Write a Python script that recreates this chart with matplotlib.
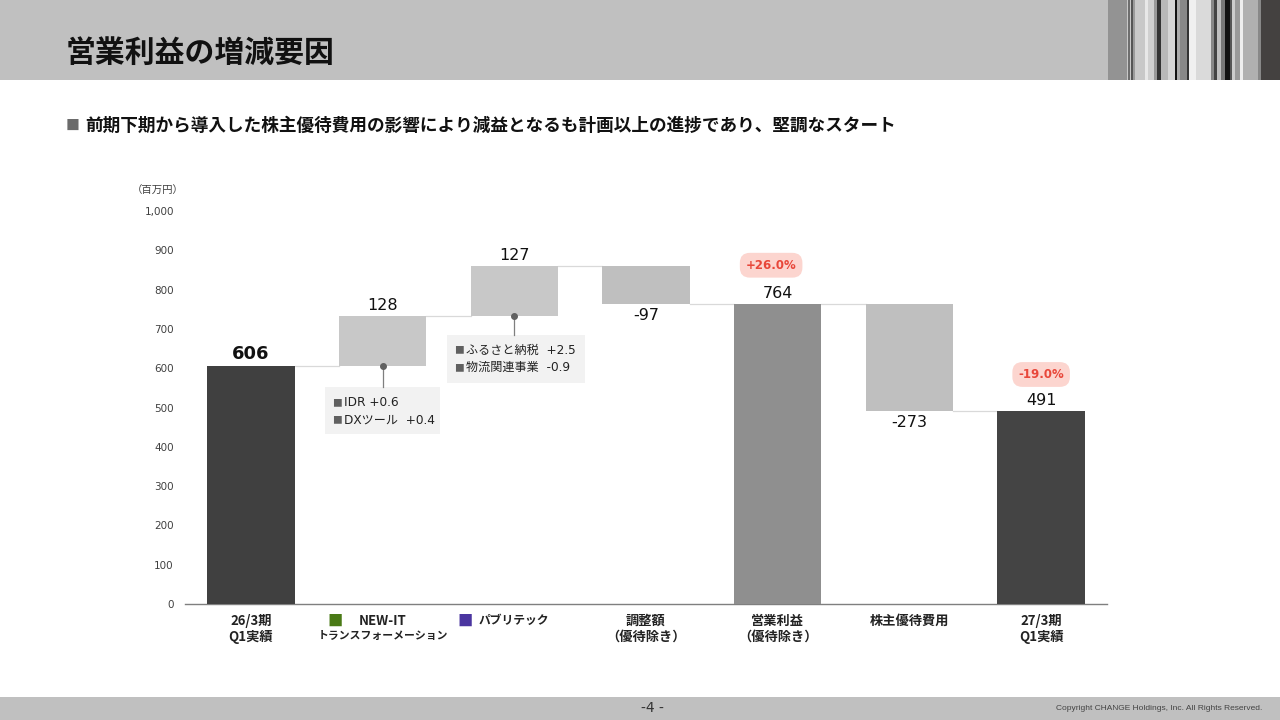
import numpy as np
import matplotlib.pyplot as plt
from matplotlib.patches import Rectangle
from matplotlib.transforms import blended_transform_factory

plt.rcParams['font.family'] = ['Noto Sans CJK JP', 'DejaVu Sans']
LATIN = ['DejaVu Sans', 'Noto Sans CJK JP']

# ---- data ----
categories = ["26/3期\nQ1実績", "NEW-IT", "パブリテック",
              "調整額\n（優待除き）", "営業利益\n（優待除き）", "株主優待費用", "27/3期\nQ1実績"]
sub_label = "トランスフォーメーション"
start_value = 606
deltas = [128, 127, -97]
subtotal = 764
yutai = -273
end_value = 491
bar_labels = ["606", "128", "127", "-97", "764", "-273", "491"]
pct_labels = ["+26.0%", "-19.0%"]
note1 = ["IDR +0.6", "DXツール  +0.4"]
note2 = ["ふるさと納税  +2.5", "物流関連事業  -0.9"]
yticks = [0, 100, 200, 300, 400, 500, 600, 700, 800, 900, 1000]

# barcode decoration at the top right (width px, colour)
stripe_w = [19, 1, 2, 1, 2, 2, 10, 3, 6, 3, 4, 7, 7, 2, 3, 7, 2, 7, 15, 3, 3, 4, 4, 5, 2, 3, 5, 3, 2, 13, 3, 20]
stripe_c = ['#939393', '#c8c8c8', '#6e6e6e', '#c8c8c8', '#555555', '#9a9a9a', '#c8c8c8', '#e8e8e8',
            '#d0d0d0', '#999999', '#333333', '#b8b8b8', '#d5d5d5', '#111111', '#aaaaaa', '#888888',
            '#333333', '#f0f0f0', '#dadada', '#888888', '#444444', '#c0c0c0', '#777777', '#111111',
            '#555555', '#cccccc', '#999999', '#eeeeee', '#b0b0b0', '#b0b0b0', '#888888', '#444140']

W, H = 1280, 720
fig = plt.figure(figsize=(12.8, 7.2), dpi=100)
fig.patch.set_facecolor('white')

# header band + barcode
fig.patches.append(Rectangle((0, 1 - 80 / H), 1, 80 / H, transform=fig.transFigure,
                             facecolor='#c0c0c0', edgecolor='none', zorder=0))
x0 = 1108
for w, c in zip(stripe_w, stripe_c):
    fig.patches.append(Rectangle((x0 / W, 1 - 80 / H), w / W, 80 / H, transform=fig.transFigure,
                                 facecolor=c, edgecolor='none', zorder=1))
    x0 += w
fig.text(66 / W, 1 - 53 / H, "営業利益の増減要因", fontsize=21.5, fontweight='bold',
         color='#111111', va='center', ha='left')

# subtitle
fig.text(66 / W, 1 - 126 / H, "■", fontsize=10, color='#6b6b6b', va='center', ha='left')
fig.text(85 / W, 1 - 126 / H, "前期下期から導入した株主優待費用の影響により減益となるも計画以上の進捗であり、堅調なスタート",
         fontsize=12.7, fontweight='bold', color='#111111', va='center', ha='left')

# footer band
fig.patches.append(Rectangle((0, 0), 1, 23 / H, transform=fig.transFigure,
                             facecolor='#c0c0c0', edgecolor='none', zorder=0))
fig.text(652 / W, 12 / H, "-4 -", fontsize=10, color='#333333', ha='center', va='center',
         family='DejaVu Sans')
fig.text(1262 / W, 12 / H, "Copyright CHANGE Holdings, Inc. All Rights Reserved.", fontsize=6,
         color='#444444', ha='right', va='center', family='Liberation Sans')

# ---- waterfall ----
ax = fig.add_axes([185 / W, 116 / H, 922 / W, 393 / H])
x = np.arange(len(categories))
cum1 = start_value + deltas[0]
cum2 = cum1 + deltas[1]
cum3 = cum2 + deltas[2]
bottoms = [0, start_value, cum1, cum3, 0, subtotal + yutai, 0]
heights = [start_value, deltas[0], deltas[1], -deltas[2], subtotal, -yutai, end_value]
colors = ['#404040', '#c8c8c8', '#c8c8c8', '#bfbfbf', '#8f8f8f', '#bfbfbf', '#444444']
bw = 0.663
ax.bar(x, heights, bottom=bottoms, width=bw, color=colors, zorder=3)

# connectors
levels = [start_value, cum1, cum2, cum3, subtotal, subtotal + yutai]
for i, lv in enumerate(levels):
    ax.plot([x[i] + bw / 2, x[i + 1] - bw / 2], [lv, lv], color='#d9d9d9', lw=0.9, zorder=2)

# value labels
tops = [start_value, cum1, cum2, cum3, subtotal, subtotal + yutai, end_value]
for i, lab in enumerate(bar_labels):
    if lab.startswith('-'):
        ax.annotate(lab, (x[i], tops[i]), xytext=(0, -3), textcoords='offset points',
                    ha='center', va='top', fontsize=11.5, family='DejaVu Sans', color='#111111')
    else:
        ax.annotate(lab, (x[i], tops[i]), xytext=(0, 2), textcoords='offset points',
                    ha='center', va='bottom', fontsize=13 if i == 0 else 11.5,
                    fontweight='bold' if i == 0 else 'normal', family='DejaVu Sans', color='#111111')

# percentage badges
for xi, yi, lab in [(x[4] - 0.05, 862, pct_labels[0]), (x[6], 584, pct_labels[1])]:
    ax.text(xi, yi, lab, ha='center', va='center', fontsize=8.5, fontweight='bold',
            color='#e8473a', family='DejaVu Sans', zorder=5,
            bbox=dict(boxstyle='round,pad=0.5,rounding_size=0.85', fc='#fcd5cf', ec='none'))

# annotation callouts
def callout(xc, ybar, box, lines):
    bx0, bx1, by0, by1 = box
    ax.add_patch(Rectangle((bx0, by0), bx1 - bx0, by1 - by0, facecolor='#f2f2f2',
                           edgecolor='none', zorder=4))
    ax.plot([xc, xc], [ybar, by1], color='#7f7f7f', lw=0.9, zorder=4)
    ax.plot(xc, ybar, 'o', color='#606060', ms=4, zorder=5)
    for k, ln in enumerate(lines):
        yy = by1 - 40 - 44 * k
        ax.text(bx0 + 0.06, yy, "■", color='#606060', fontsize=7, va='center', ha='left', zorder=5)
        ax.text(bx0 + 0.145, yy, ln, color='#222222', fontsize=8.7, va='center', ha='left',
                family=LATIN, zorder=5)

callout(x[1], start_value, (0.56, 1.433, 432, 552), note1)
callout(x[2], cum1, (1.486, 2.54, 562, 685), note2)

ax.set_xlim(-0.5, 6.5)
ax.set_ylim(0, 1000)
ax.set_yticks(yticks)
ax.set_yticklabels([f"{v:,}" for v in yticks], family='DejaVu Sans')
ax.tick_params(axis='y', length=0, pad=8, labelsize=7.5, labelcolor='#404040')
ax.set_xticks([])
for s in ['top', 'right', 'left']:
    ax.spines[s].set_visible(False)
ax.spines['bottom'].set_color('#7f7f7f')
ax.spines['bottom'].set_linewidth(1.0)
ax.text(-0.71, 1050, "（百万円）", fontsize=7.5, color='#404040', ha='center', va='center')

# category labels under the axis
tr = blended_transform_factory(ax.transData, ax.transAxes)
for i, lab in enumerate(categories):
    ax.annotate(lab, (x[i], 0), xycoords=tr, xytext=(0, -10), textcoords='offset pixels',
                ha='center', va='top', fontsize=9.5 if i != 2 else 8.5, fontweight='bold',
                color='#222222', linespacing=1.15, multialignment='center')
ax.annotate(sub_label, (x[1], 0), xycoords=tr, xytext=(0, -27), textcoords='offset pixels',
            ha='center', va='top', fontsize=7.8, fontweight='bold', color='#222222')
for i, col, off in [(1, '#4a7a16', -47), (2, '#4b35a0', -49)]:
    ax.annotate("■", (x[i], 0), xycoords=tr, xytext=(off, -9), textcoords='offset pixels',
                ha='center', va='top', fontsize=11, color=col)

fig.savefig('out.png', dpi=100)
